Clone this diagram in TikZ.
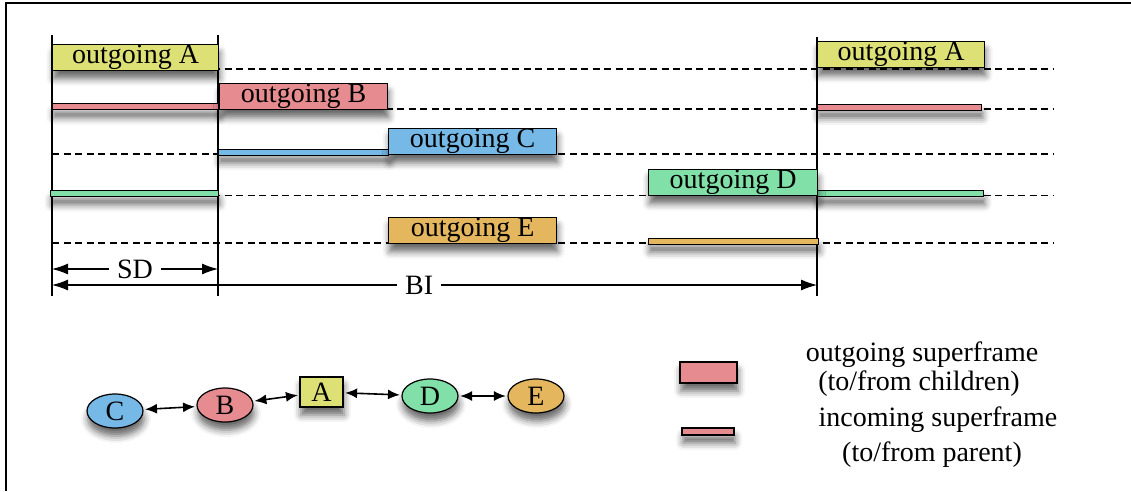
\documentclass[tikz,border=0pt]{standalone}
\usepackage{fontspec}
\setmainfont{Liberation Serif}
\usetikzlibrary{arrows.meta,shapes.geometric,shadows.blur}

\definecolor{cA}{RGB}{221,224,116}
\definecolor{cB}{RGB}{230,140,145}
\definecolor{cC}{RGB}{118,184,230}
\definecolor{cD}{RGB}{128,224,168}
\definecolor{cE}{RGB}{228,182,94}

\begin{document}
\begin{tikzpicture}[x=1pt,y=-1pt,>={Latex[length=16pt,width=11pt]},
  font=\fontsize{28}{33}\selectfont]
  \tikzstyle{shade}=[blur shadow={shadow xshift=1pt,shadow yshift=-8pt,
    shadow blur radius=7pt,shadow opacity=60}]
  \tikzstyle{frame}=[draw,line width=1.2pt,anchor=north west,inner sep=0pt,
    minimum height=26pt,shade]
  \tikzstyle{bar}=[draw,line width=1.2pt,anchor=north west,inner sep=0pt,
    minimum height=6pt,shade]
  \tikzstyle{slot}=[dashed,dash pattern=on 7pt off 4.5pt,line width=1.1pt]
  \tikzstyle{station}=[ellipse,draw,line width=1.2pt,minimum width=56pt,
    minimum height=34pt,inner sep=0pt,shade]
  \tikzstyle{link}=[{Latex[length=12pt,width=10pt]}-{Latex[length=12pt,width=10pt]},
    line width=1.6pt,shorten <=1.5pt,shorten >=1.5pt]

  \useasboundingbox (0,0) rectangle (1131,491);
  \draw[line width=1.2pt] (6,491) -- (6,3) -- (1131,3);

  % rows
  \foreach \y in {69,109,154,195.5,243}
    \draw[slot] (52,\y) -- (1053,\y);

  % beacon times
  \coordinate (t0) at (52,35);   \coordinate (u0) at (52,296);
  \coordinate (t1) at (218,35);  \coordinate (u1) at (218,296);
  \coordinate (t2) at (817,37);  \coordinate (u2) at (817,296);
  \draw[line width=1.1pt] (t0) -- (u0) (t1) -- (u1) (t2) -- (u2);

  \node[bar,fill=cB,minimum width=166pt] (inB1) at (52,103) {};
  \node[bar,fill=cC,minimum width=170pt] (inC)  at (218,148.5) {};
  \node[bar,fill=cD,minimum width=168pt] (inD1) at (50,190) {};
  \node[bar,fill=cB,minimum width=164pt] (inB2) at (817,103.5) {};
  \node[bar,fill=cD,minimum width=166pt] (inD2) at (817,190) {};
  \node[bar,fill=cE,minimum width=170pt] (inE)  at (648,237.5) {};

  \node[frame,fill=cA,minimum width=166pt] (outA1) at (52,44)  {outgoing A};
  \node[frame,fill=cB,minimum width=168pt] (outB)  at (219,83) {outgoing B};
  \node[frame,fill=cC,minimum width=168pt] (outC)  at (388,128) {outgoing C};
  \node[frame,fill=cD,minimum width=169pt] (outD)  at (648,169) {outgoing D};
  \node[frame,fill=cE,minimum width=168pt] (outE)  at (388,217) {outgoing E};
  \node[frame,fill=cA,minimum width=167pt] (outA2) at (817,41) {outgoing A};

  % SD and BI
  \coordinate (sd0) at (52,269);  \coordinate (sd1) at (218,269);
  \coordinate (bi0) at (52,285);  \coordinate (bi1) at (817,285);
  \draw[<->,line width=1.1pt] (sd0) -- node[fill=white,inner xsep=8pt,inner ysep=0pt] (SD) {SD} (sd1);
  \draw[<->,line width=1.1pt] (bi0) -- node[pos=0.48,fill=white,inner xsep=8pt,inner ysep=0pt] (BI) {BI} (bi1);

  % topology
  \node[station,fill=cC] (C) at (115,411) {C};
  \node[station,fill=cB] (B) at (225,405) {B};
  \node[draw,line width=1.2pt,fill=cA,minimum width=43pt,minimum height=30pt,
    inner sep=0pt,shade] (A) at (321.5,392) {A};
  \node[station,fill=cD] (D) at (430,396) {D};
  \node[station,fill=cE] (E) at (536,396) {E};

  \path (C) edge[link] (B)
        (B) edge[link] (A)
        (A) edge[link] (D)
        (D) edge[link] (E);

  % legend
  \node[draw,line width=1.2pt,fill=cB,minimum width=57pt,minimum height=21pt,
    inner sep=0pt,shade] (keyOut) at (708.5,372.5) {};
  \node[draw,line width=1.2pt,fill=cB,minimum width=52pt,minimum height=7pt,
    inner sep=0pt,shade] (keyIn) at (708,431.5) {};
  \node (keyOut1) at (922,355) {outgoing superframe};
  \node (keyOut2) at (919,384) {(to/from children)};
  \node (keyIn1)  at (938,420) {incoming superframe};
  \node (keyIn2)  at (932,455) {(to/from parent)};
\end{tikzpicture}
\end{document}
